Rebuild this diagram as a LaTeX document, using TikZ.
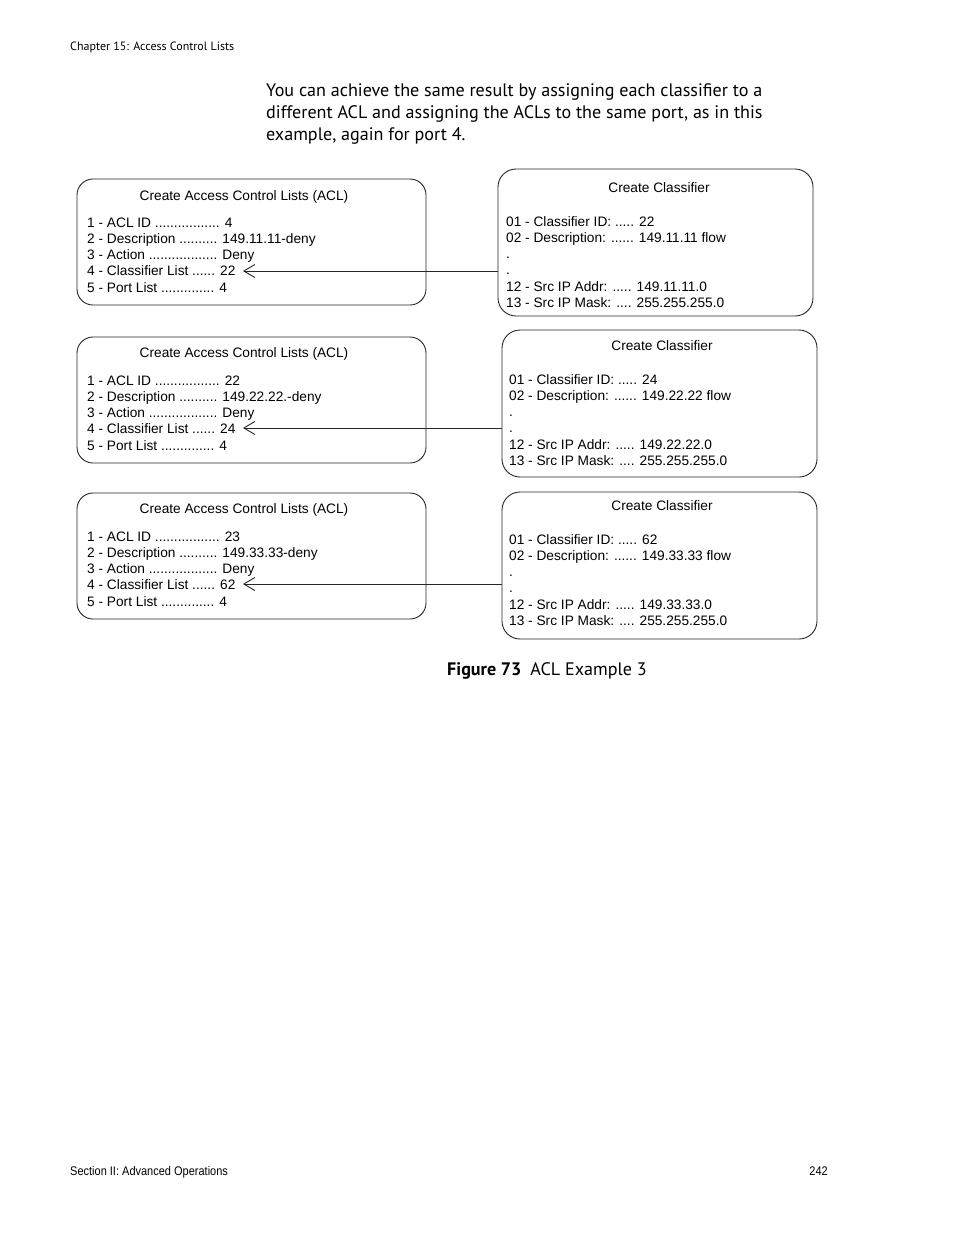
\documentclass[tikz,border=0pt]{standalone}
\usepackage{fontspec}
\setmainfont{PT Sans}
\newfontfamily\arialfont{Liberation Sans}
\newfontfamily\condfont[FakeStretch=0.88]{Liberation Sans}
\usepackage{tikz}
\usetikzlibrary{arrows.meta,positioning,calc}

\begin{document}
\begin{tikzpicture}[
    x=1pt, y=-1pt,
    aclbox/.style={rectangle, draw=black!85, line width=0.9pt, rounded corners=16pt,
                   minimum width=349pt, minimum height=126pt, inner sep=0pt},
    clsbox/.style={rectangle, draw=black!85, line width=0.9pt, rounded corners=18pt,
                   minimum width=315pt, minimum height=147pt, inner sep=0pt},
    boxtitle/.style={anchor=base, inner sep=0pt, font=\arialfont\fontsize{13.7}{16.3}\selectfont},
    boxtext/.style={anchor=base west, inner sep=0pt, align=left,
                    font=\arialfont\fontsize{13.7}{16.3}\selectfont},
    link/.style={-{Straight Barb[length=11pt, width=13pt]}, line width=0.9pt, black!85},
]
    \useasboundingbox (0,0) rectangle (954,1235);

    % page header and text (multi-line nodes sit on their last baseline)
    \node[anchor=base west, inner sep=0pt, font=\fontsize{12}{14}\selectfont] (head) at (70,50) {Chapter 15: Access Control Lists};
    \node[anchor=base west, inner sep=0pt, align=left, font=\fontsize{18.1}{22}\selectfont] (para) at (266,140)
        {You can achieve the same result by assigning each classifier to a\\
         different ACL and assigning the ACLs to the same port, as in this\\
         example, again for port 4.};

    % first pair
    \node[aclbox] (acl1) at (251.5,242) {};
    \node[boxtitle] (acl1t) at (244,200) {Create Access Control Lists (ACL)};
    \node[boxtext] (acl1x) at (87,292.2)
        {1 - ACL ID ................. 4\\
         2 - Description .......... 149.11.11-deny\\
         3 - Action .................. Deny\\
         4 - Classifier List ...... 22\\
         5 - Port List .............. 4};
    \node[clsbox] (cls1) at (655.5,242.5) {};
    \node[boxtitle] (cls1t) at (659,192) {Create Classifier};
    \node[boxtext] (cls1x) at (506,307.5)
        {01 - Classifier ID: ..... 22\\
         02 - Description: ...... 149.11.11 flow\\
         .\\
         .\\
         12 - Src IP Addr: ..... 149.11.11.0\\
         13 - Src IP Mask: .... 255.255.255.0};
    \coordinate (tip1) at (243,271);
    \draw[link] (cls1.west |- tip1) -- (tip1);

    % second pair
    \node[aclbox] (acl2) at (251.5,400) {};
    \node[boxtitle] (acl2t) at (244,357) {Create Access Control Lists (ACL)};
    \node[boxtext] (acl2x) at (87,450.2)
        {1 - ACL ID ................. 22\\
         2 - Description .......... 149.22.22.-deny\\
         3 - Action .................. Deny\\
         4 - Classifier List ...... 24\\
         5 - Port List .............. 4};
    \node[clsbox] (cls2) at (659.5,403.5) {};
    \node[boxtitle] (cls2t) at (662,350) {Create Classifier};
    \node[boxtext] (cls2x) at (509,465.5)
        {01 - Classifier ID: ..... 24\\
         02 - Description: ...... 149.22.22 flow\\
         .\\
         .\\
         12 - Src IP Addr: ..... 149.22.22.0\\
         13 - Src IP Mask: .... 255.255.255.0};
    \coordinate (tip2) at (243,428);
    \draw[link] (cls2.west |- tip2) -- (tip2);

    % third pair
    \node[aclbox] (acl3) at (251.5,556) {};
    \node[boxtitle] (acl3t) at (244,513) {Create Access Control Lists (ACL)};
    \node[boxtext] (acl3x) at (87,606.2)
        {1 - ACL ID ................. 23\\
         2 - Description .......... 149.33.33-deny\\
         3 - Action .................. Deny\\
         4 - Classifier List ...... 62\\
         5 - Port List .............. 4};
    \node[clsbox] (cls3) at (659.5,565.5) {};
    \node[boxtitle] (cls3t) at (662,510) {Create Classifier};
    \node[boxtext] (cls3x) at (509,625.5)
        {01 - Classifier ID: ..... 62\\
         02 - Description: ...... 149.33.33 flow\\
         .\\
         .\\
         12 - Src IP Addr: ..... 149.33.33.0\\
         13 - Src IP Mask: .... 255.255.255.0};
    \coordinate (tip3) at (243,584);
    \draw[link] (cls3.west |- tip3) -- (tip3);

    % caption and footer
    \node[anchor=base west, inner sep=0pt, font=\fontsize{18.1}{22}\selectfont] (cap) at (447,675)
        {\textbf{Figure 73}\enspace ACL Example 3};
    \node[anchor=base west, inner sep=0pt, font=\condfont\fontsize{12.5}{14}\selectfont] (foot) at (70,1175) {Section II: Advanced Operations};
    \node[anchor=base east, inner sep=0pt, font=\condfont\fontsize{12.5}{14}\selectfont] (page) at (828,1175) {242};
\end{tikzpicture}
\end{document}
